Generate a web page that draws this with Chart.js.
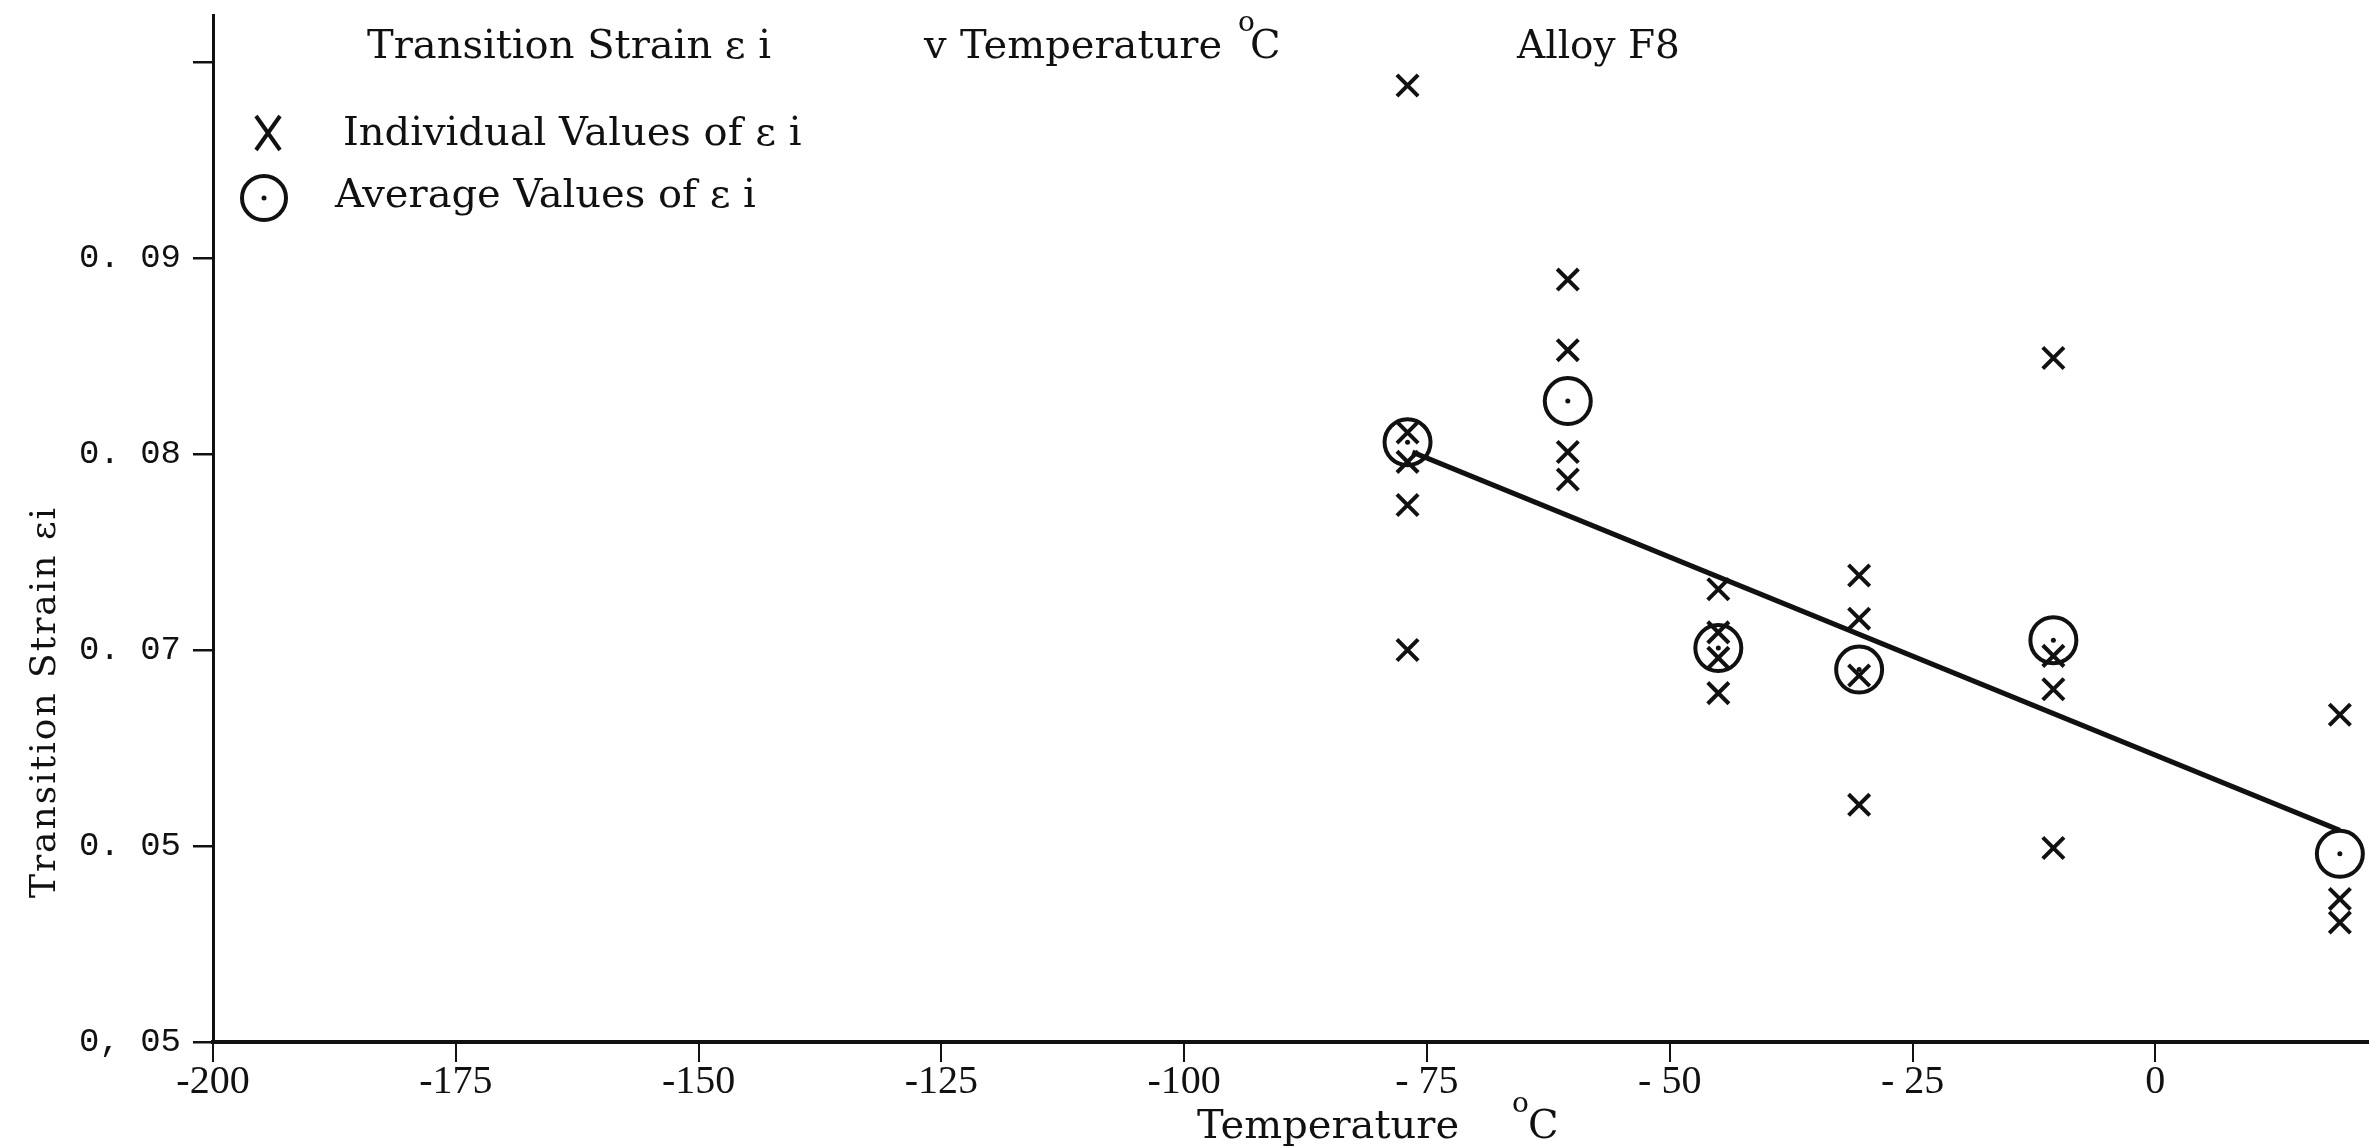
<!DOCTYPE html>
<html>
<head>
<meta charset="utf-8">
<title>Transition Strain v Temperature - Alloy F8</title>
<script src="https://cdn.jsdelivr.net/npm/chart.js@4.4.1/dist/chart.umd.min.js"></script>
<style>
    html, body { margin: 0; padding: 0; background: #fff; overflow: hidden; }
    #wrap { position: relative; width: 2369px; height: 1147px; }
</style>
</head>
<body>
<div id="wrap"><canvas id="strainChart"></canvas></div>
<script>
/* ── Data ─────────────────────────────────────── */
const clusterTemps = [-77, -60.5, -45, -30.5, -10.5, 19];
const averageStrain = [0.0806, 0.0827, 0.0701, 0.0690, 0.0705, 0.0596];

const individualTemps = [
    -77, -77, -77, -77, -77,
    -60.5, -60.5, -60.5, -60.5,
    -45, -45, -45, -45,
    -30.5, -30.5, -30.5, -30.5,
    -10.5, -10.5, -10.5, -10.5,
    19, 19, 19,
];
const individualStrain = [
    0.0988, 0.0811, 0.0796, 0.0774, 0.0700,
    0.0889, 0.0853, 0.0801, 0.0787,
    0.0731, 0.0709, 0.0696, 0.0678,
    0.0738, 0.0716, 0.0687, 0.0621,
    0.0849, 0.0697, 0.0680, 0.0599,
    0.0667, 0.0573, 0.0561,
];

// fitted line, end points
const trendTemps = [-76.5, 19];
const trendStrain = [0.0801, 0.0608];

const xTicks = [-200, -175, -150, -125, -100, -75, -50, -25, 0];
const xTickLabels = ['-200', '-175', '-150', '-125', '-100', '- 75', '- 50', '- 25', '0'];
const yTicks = [0.05, 0.06, 0.07, 0.08, 0.09, 0.10];
// typed as on the sheet (the 0.06 mark is typed "0.05")
const yTickLabels = ['0, 05', '0. 05', '0. 07', '0. 08', '0. 09', ''];

const INK = '#111';
const SERIF = '"DejaVu Serif", "Liberation Serif", serif';
const TICKSERIF = '"Liberation Serif", serif';
const MONO = '"Liberation Mono", "DejaVu Sans Mono", monospace';

const toPoints = (xs, ys) => xs.map((x, i) => ({ x, y: ys[i] }));
const noPadding = (s) => {
    s.paddingTop = 0;
    s.paddingBottom = 0;
    s.paddingLeft = 0;
    s.paddingRight = 0;
};

/* ── Typed text: title, legend, axis titles ────── */
const annotations = {
    id: 'annotations',
    afterDraw(chart) {
        const ctx = chart.ctx;
        ctx.save();
        ctx.fillStyle = INK;
        ctx.strokeStyle = INK;
        ctx.textBaseline = 'alphabetic';
        ctx.textAlign = 'left';

        // heading
        ctx.font = `40px ${SERIF}`;
        ctx.fillText('Transition Strain ε i', 367, 58);
        ctx.fillText('v', 924, 58);
        ctx.fillText('Temperature', 960, 58);
        ctx.fillText('C', 1250, 58);
        ctx.font = `39px ${SERIF}`;
        ctx.fillText('Alloy F8', 1517, 58);
        ctx.font = `28px ${SERIF}`;
        ctx.fillText('o', 1238, 31);

        // legend
        ctx.font = `40px ${SERIF}`;
        ctx.fillText('Individual Values of ε i', 343, 145);
        ctx.fillText('Average Values of ε i', 335, 207);

        ctx.lineWidth = 4;
        ctx.beginPath();
        ctx.moveTo(256, 116); ctx.lineTo(280, 150);
        ctx.moveTo(280, 116); ctx.lineTo(256, 150);
        ctx.stroke();

        ctx.beginPath();
        ctx.arc(264, 198, 22, 0, Math.PI * 2);
        ctx.stroke();
        ctx.beginPath();
        ctx.arc(264, 198, 2.5, 0, Math.PI * 2);
        ctx.fill();

        // x axis title
        ctx.font = `40px ${SERIF}`;
        ctx.fillText('Temperature', 1197, 1138);
        ctx.fillText('C', 1528, 1138);
        ctx.font = `28px ${SERIF}`;
        ctx.fillText('o', 1512, 1112);

        // y axis title
        ctx.translate(55, 702);
        ctx.rotate(-Math.PI / 2);
        ctx.textAlign = 'center';
        ctx.font = `36px ${SERIF}`;
        ctx.letterSpacing = '2px';
        ctx.fillText('Transition Strain εi', 0, 0);
        ctx.letterSpacing = '0px';

        ctx.restore();
    },
};

/* ── Chart ─────────────────────────────────────── */
new Chart(document.getElementById('strainChart'), {
    type: 'scatter',
    data: {
        datasets: [
            {
                label: 'Individual Values',
                data: toPoints(individualTemps, individualStrain),
                pointStyle: 'crossRot',
                pointRadius: 15,
                borderColor: INK,
                borderWidth: 4,
            },
            {
                label: 'Average Values',
                data: toPoints(clusterTemps, averageStrain),
                pointStyle: 'circle',
                pointRadius: 23,
                borderColor: INK,
                backgroundColor: 'rgba(0,0,0,0)',
                borderWidth: 4,
            },
            {
                label: 'Average centre',
                data: toPoints(clusterTemps, averageStrain),
                pointStyle: 'circle',
                pointRadius: 2.5,
                borderWidth: 0,
                backgroundColor: INK,
            },
            {
                label: 'Fit',
                data: toPoints(trendTemps, trendStrain),
                showLine: true,
                pointRadius: 0,
                borderColor: INK,
                borderWidth: 5,
            },
        ],
    },
    options: {
        responsive: true,
        maintainAspectRatio: false,
        animation: false,
        layout: {
            autoPadding: false,
            padding: { top: 15, right: 0, bottom: 0, left: 0 },
        },
        plugins: {
            legend: { display: false },
            tooltip: { enabled: false },
        },
        scales: {
            x: {
                type: 'linear',
                min: -200,
                max: 22,
                afterBuildTicks: (s) => { s.ticks = xTicks.map((v) => ({ value: v })); },
                afterFit: (s) => { s.height = 105; noPadding(s); },
                grid: {
                    drawOnChartArea: false,
                    drawTicks: true,
                    tickLength: 20,
                    color: INK,
                    lineWidth: 2,
                },
                border: { color: INK, width: 4 },
                ticks: {
                    color: INK,
                    padding: -4,
                    maxRotation: 0,
                    autoSkip: false,
                    font: { family: TICKSERIF, size: 40 },
                    callback: (v, i) => xTickLabels[i],
                },
            },
            y: {
                type: 'linear',
                min: 0.05,
                max: 0.1024,
                afterBuildTicks: (s) => { s.ticks = yTicks.map((v) => ({ value: v })); },
                afterFit: (s) => { s.width = 213; noPadding(s); },
                grid: {
                    drawOnChartArea: false,
                    drawTicks: true,
                    tickLength: 20,
                    color: INK,
                    lineWidth: 2.5,
                },
                border: { color: INK, width: 3 },
                ticks: {
                    color: INK,
                    padding: 12,
                    autoSkip: false,
                    font: { family: MONO, size: 34 },
                    callback: (v, i) => yTickLabels[i],
                },
            },
        },
    },
    plugins: [annotations],
});
</script>
</body>
</html>
